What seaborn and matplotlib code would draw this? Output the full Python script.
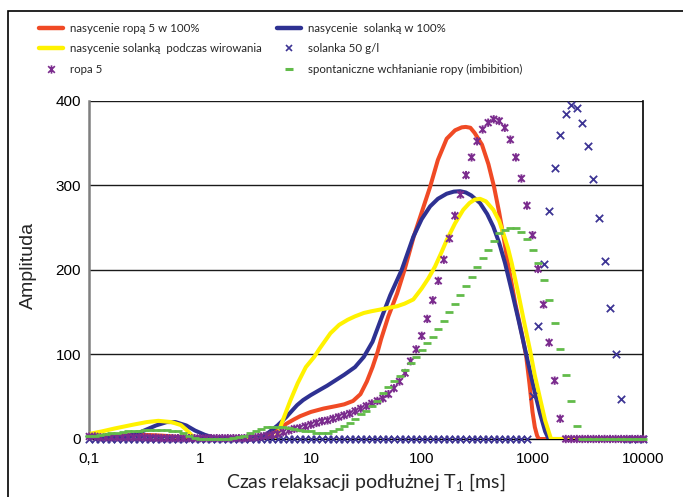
import numpy as np
import pandas as pd
import matplotlib
matplotlib.use("Agg")
import matplotlib.pyplot as plt
import seaborn as sns
from matplotlib.lines import Line2D
from matplotlib.path import Path
from matplotlib.markers import MarkerStyle
from matplotlib.patches import Rectangle

# ---------------- data ----------------
# sampling grid of the marker series (20 points per decade, 0.1 ... 10000 ms)
t_grid = np.logspace(-1, 4, 101)

# line series (knots)
red_t = [0.1, 0.15, 0.22, 0.3, 0.45, 0.7, 1.0, 1.5, 3.0, 3.5, 4.0, 4.5, 5.0, 6.0, 7.0, 8.0, 10, 13, 17, 20,
         24, 28, 32, 36, 40, 43, 50, 60, 70, 85, 100, 119, 140, 168, 200, 230, 250, 275, 300, 350,
         400, 450, 500, 546, 606, 700, 800, 877, 940, 1000, 1050, 1100, 1140, 10000]
red_amp = [2, 3, 4.5, 5, 4, 2, 0.5, 0, 0, 1, 3, 7, 11, 18, 23, 27, 32, 36, 39, 41,
           45, 53, 68, 85, 103, 118, 145, 172, 200, 240, 268, 298, 330, 355, 365, 368.5, 369, 368, 362, 348,
           325, 298, 268, 240, 205, 160, 125, 98, 65, 32, 14, 4, 0, 0]

blue_t = [0.1, 0.15, 0.2, 0.25, 0.3, 0.4, 0.5, 0.6, 0.75, 0.9, 1.1, 1.3, 1.5, 3.0, 3.5, 4.0, 5.0, 6.0, 7.5, 8.5,
          10, 12, 14, 20, 25, 30, 36, 43, 52, 66, 84, 100, 119, 140, 168, 195, 222, 250, 280, 336,
          390, 443, 500, 565, 650, 750, 850, 950, 1050, 1170, 1300, 1400, 10000]
blue_amp = [0, 0.5, 2, 5, 9, 16, 20, 20, 16, 10, 5, 2, 0, 0, 2, 6, 16, 26, 40, 46,
            52, 58, 63, 76, 85, 97, 115, 142, 170, 200, 239, 260, 275, 284, 290, 292.5, 293, 291.5, 288, 279,
            266, 251, 232, 208, 175, 140, 108, 80, 55, 30, 9, 0, 0]

yellow_t = [0.1, 0.13, 0.17, 0.25, 0.33, 0.42, 0.55, 0.67, 0.75, 0.83, 0.9, 1.0, 4.7, 5.0, 5.5, 6.5, 7.6, 9.0,
            10.7, 12, 15, 18, 21.5, 25, 30, 35, 42, 60, 70, 84, 100, 115, 132, 150, 168, 200, 237, 270,
            300, 336, 380, 443, 500, 546, 600, 649, 750, 850, 950, 1050, 1170, 1300, 1470, 10000]
yellow_amp = [6, 9, 12.5, 17, 20, 21.5, 20, 16.5, 11, 5, 1, 0, 0, 5, 20, 45, 66, 85,
              97, 107, 125, 135, 141, 145, 149, 151, 153, 157, 160, 165, 178, 190, 204, 220, 235, 255, 271, 279,
              283, 284, 281, 271, 258, 243, 226, 208, 170, 135, 105, 75, 48, 22, 0, 0]

# marker series on t_grid
solanka_amp = [0] * 80 + [51, 134, 207, 270, 321, 360, 384, 395, 391, 374, 346, 308, 261, 210, 155, 101, 47] + [0] * 4

ropa_amp = ([3, 3, 2, 2, 2, 2, 2, 2, 2] +
            [2, 2, 1.5, 1.5, 1, 1, 1, 1, 1, 1, 1] +
            [1, 1, 1, 1, 1, 1, 1, 1, 1, 1.5] +
            [2, 3, 4, 5, 6, 8, 10, 12, 13, 15] +
            [17, 19, 21, 22, 24, 26, 28, 30, 33, 36] +
            [39, 42, 45, 48, 53, 60, 68, 78, 92, 106] +
            [122, 142, 164, 187, 212, 237, 264, 289, 312, 333] +
            [352, 366, 374, 378, 376, 368, 354, 333, 308, 276] +
            [241, 201, 159, 114, 69, 24] + [0] * 15)

imbib_amp = ([3, 4, 5, 6, 7, 7.5, 8, 9, 9.5, 10] +
             [10.5, 11, 11, 11, 11, 10, 9, 7, 4, 1.5] +
             [0.5, 0, 0, 0, 0, 0] +
             [1, 2, 4, 7] +
             [10, 12, 14, 14.6, 14.6, 14, 13, 12, 11, 10] +
             [9, 7.5, 7, 7, 9, 12, 15, 19, 24, 29] +
             [33, 39, 45, 54, 62, 69, 75, 82, 90, 97] +
             [105, 113, 121, 130, 140, 150, 160, 170, 181, 192] +
             [203, 214, 224, 234, 243, 247, 250, 250, 245, 237] +
             [224, 208, 188, 164, 137, 107, 76, 45, 15] + [0] * 12)

labels = ["nasycenie ropą 5 w 100%", "nasycenie  solanką w 100%",
          "nasycenie solanką  podczas wirowania", "solanka 50 g/l",
          "ropa 5", "spontaniczne wchłanianie ropy (imbibition)"]

xtick_vals = [0.1, 1, 10, 100, 1000, 10000]
xtick_labels = ["0,1", "1", "10", "100", "1000", "10000"]
ytick_vals = [0, 100, 200, 300, 400]

# ---------------- style ----------------
C_RED = "#F04A25"
C_BLUE = "#2E3192"
C_YEL = "#FFF200"
C_XBLUE = "#3D3494"
C_PURP = "#7B2C8E"
C_GREEN = "#62BB4A"

sns.set_style("white")
plt.rcParams["font.family"] = ["Liberation Sans", "DejaVu Sans"]
plt.rcParams["mathtext.fontset"] = "custom"

fig = plt.figure(figsize=(6.83, 4.97), dpi=100)
ax = fig.add_axes([89.3 / 683, 1 - 439 / 497, (643.3 - 89.3) / 683, (439 - 100.7) / 497])
ax.set_xscale("log")

df_red = pd.DataFrame({"t": red_t, "a": red_amp})
df_blue = pd.DataFrame({"t": blue_t, "a": blue_amp})
df_yel = pd.DataFrame({"t": yellow_t, "a": yellow_amp})
df_m = pd.DataFrame({"t": t_grid, "sol": solanka_amp, "ropa": ropa_amp, "imb": imbib_amp})

LW = 2.9
for d, c in [(df_red, C_RED), (df_blue, C_BLUE), (df_yel, C_YEL)]:
    sns.lineplot(data=d, x="t", y="a", color=c, lw=LW, ax=ax, zorder=3,
                 solid_joinstyle="round", solid_capstyle="round")

star_path = Path([(-0.5, -0.5), (0.5, 0.5), (-0.5, 0.5), (0.5, -0.5), (0, -0.62), (0, 0.62)],
                 [Path.MOVETO, Path.LINETO, Path.MOVETO, Path.LINETO, Path.MOVETO, Path.LINETO])
star_marker = MarkerStyle(star_path, fillstyle="none")

sns.scatterplot(data=df_m, x="t", y="sol", marker="x", s=28, color=C_XBLUE, linewidth=1.3,
                ax=ax, zorder=4, clip_on=False)
sns.scatterplot(data=df_m, x="t", y="ropa", marker=star_marker, s=36, color=C_PURP, linewidth=1.4,
                ax=ax, zorder=5, clip_on=False)
sns.scatterplot(data=df_m, x="t", y="imb", marker="_", s=40, color=C_GREEN, linewidth=2.0,
                ax=ax, zorder=6, clip_on=False)

ax.set_xlim(0.1, 10000)
ax.set_ylim(0, 400)
ax.set_xticks(xtick_vals)
ax.set_xticklabels(xtick_labels)
ax.xaxis.set_minor_locator(matplotlib.ticker.NullLocator())
ax.set_yticks(ytick_vals)
ax.yaxis.grid(True, color="#1a1a1a", lw=1.0)
ax.set_axisbelow(True)
ax.tick_params(axis="both", labelsize=11, colors="#7f7f7f", labelcolor="black",
               direction="out", length=4.5, width=1.3)
ax.tick_params(axis="y", pad=1.5)
ax.tick_params(axis="x", pad=5)

ax.spines["top"].set_visible(False)
ax.spines["left"].set_color("#7f7f7f")
ax.spines["left"].set_linewidth(1.8)
ax.spines["right"].set_color("black")
ax.spines["right"].set_linewidth(1.2)
ax.spines["bottom"].set_color("black")
ax.spines["bottom"].set_linewidth(1.0)

ax.set_ylabel("Amplituda", fontsize=14)
ax.yaxis.set_label_coords(-0.094, 0.514)
ax.set_xlabel("Czas relaksacji podłużnej T$\\mathregular{_1}$ [ms]", fontsize=14,
              family=["Lato", "DejaVu Sans"], labelpad=4)

# ---------------- legend (two columns) ----------------
h_red = Line2D([], [], color=C_RED, lw=3.2)
h_blue = Line2D([], [], color=C_BLUE, lw=3.2)
h_yel = Line2D([], [], color=C_YEL, lw=3.2)
h_sol = Line2D([], [], color=C_XBLUE, ls="none", marker="x", markersize=5, mew=1.2)
h_ropa = Line2D([], [], color=C_PURP, ls="none", marker=star_marker, markersize=6, mew=1.2)
h_imb = Line2D([], [], color=C_GREEN, ls="none", marker="_", markersize=6, mew=2.2)

leg_font = {"family": ["Lato", "DejaVu Sans"], "size": 8.3}
common = dict(loc="upper left", frameon=False, borderpad=0, borderaxespad=0,
              handlelength=2.1, handletextpad=0.6, labelspacing=0.82, prop=leg_font)
leg1 = fig.legend([h_red, h_yel, h_ropa], [labels[0], labels[2], labels[4]],
                  bbox_to_anchor=(39 / 683, 1 - 23 / 497), **common)
leg2 = fig.legend([h_blue, h_sol, h_imb], [labels[1], labels[3], labels[5]],
                  bbox_to_anchor=(277 / 683, 1 - 23 / 497), **common)

# outer frame
fig.patches.append(Rectangle((8 / 683, -0.05), 1.2, 1.05 - 11 / 497, transform=fig.transFigure,
                             fill=False, ec="black", lw=1.2))

fig.savefig("out.png", dpi=100)
